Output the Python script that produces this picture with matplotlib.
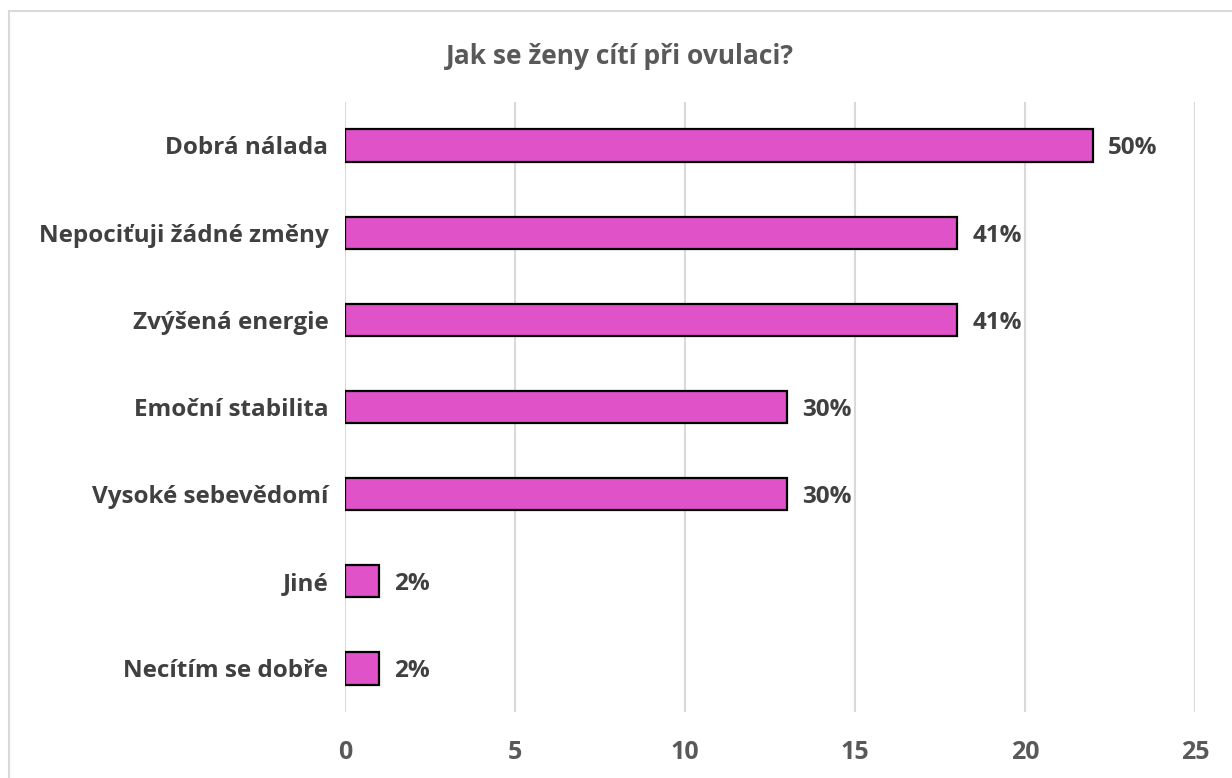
import matplotlib.pyplot as plt
from matplotlib.patches import Rectangle

# odpovědi a počty (od nejčastější)
categories = ['Dobrá nálada', 'Nepociťuji žádné změny', 'Zvýšená energie',
              'Emoční stabilita', 'Vysoké sebevědomí', 'Jiné', 'Necítím se dobře']
counts = [22, 18, 18, 13, 13, 1, 1]
percent_labels = ['50%', '41%', '41%', '30%', '30%', '2%', '2%']
xticks = [0, 5, 10, 15, 20, 25]

plt.rcParams['font.family'] = ['Open Sans', 'DejaVu Sans']

fig = plt.figure(figsize=(12.32, 7.78), dpi=100)
ax = fig.add_axes([0.280, 0.0848, 0.690, 0.7842])

# rámeček grafu
fig.patches.append(Rectangle((9 / 1232, -0.1), 1.2, 1 - 11 / 778 + 0.1,
                             transform=fig.transFigure, fill=False,
                             edgecolor='#d9d9d9', linewidth=1.5))

y = list(range(len(categories)))[::-1]
ax.barh(y, counts, height=0.37, color='#E052C8', edgecolor='black',
        linewidth=1.6, zorder=3)

for yi, c, lab in zip(y, counts, percent_labels):
    ax.text(c + 0.45, yi, lab, va='center_baseline', ha='left', fontsize=17.5,
            fontweight='bold', color='#404040')

ax.set_xlim(0, 25)
ax.set_ylim(-0.5, len(categories) - 0.5)
ax.set_xticks(xticks)
ax.set_xticklabels([str(t) for t in xticks], fontsize=18, fontweight='bold',
                   color='#595959')
ax.set_yticks(y)
ax.set_yticklabels(categories, fontsize=17.5, fontweight='bold', color='#404040')
ax.tick_params(axis='both', length=0)
ax.tick_params(axis='x', pad=20)
ax.tick_params(axis='y', pad=12)
ax.grid(axis='x', color='#d9d9d9', linewidth=1.5, zorder=0)
for s in ax.spines.values():
    s.set_visible(False)

fig.text(0.503, 0.927, 'Jak se ženy cítí při ovulaci?', ha='center', va='center',
         fontsize=19, fontweight='bold', color='#595959')

fig.savefig('out.png', dpi=100)
